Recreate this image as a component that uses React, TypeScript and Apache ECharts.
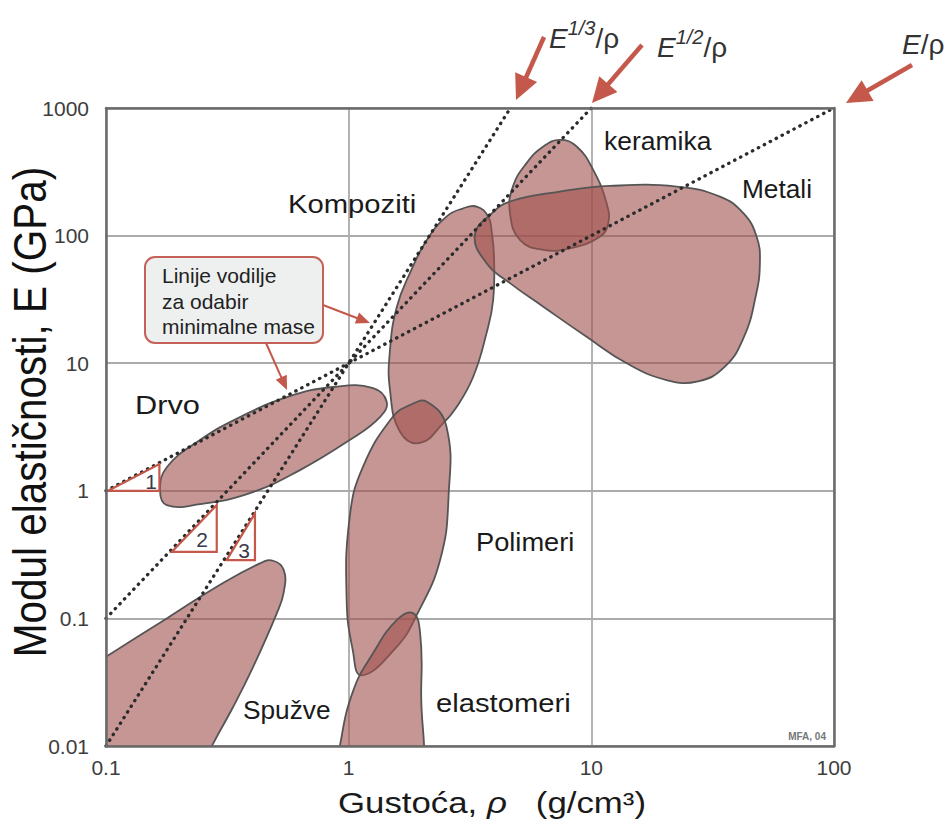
import React, { useEffect, useRef } from 'react';
import * as echarts from 'echarts';

// ---------- data (density g/cm3, modulus GPa) ----------
const xTickLabels = ['0.1', '1', '10', '100'];
const yTickLabels = ['0.01', '0.1', '1', '10', '100', '1000'];

const foams = [[0.06, 0.0267], [0.1, 0.05], [0.178, 0.1], [0.286, 0.177], [0.431, 0.27], [0.488, 0.283], [0.54, 0.24], [0.54, 0.16], [0.505, 0.109], [0.404, 0.0417], [0.334, 0.0202], [0.276, 0.0104], [0.233, 0.0054], [0.152, 0.00375], [0.06, 0.005]];
const wood = [[0.167, 1.01], [0.178, 0.773], [0.244, 0.786], [0.392, 0.96], [0.63, 1.453], [1.01, 2.5], [1.346, 3.78], [1.434, 4.99], [1.26, 6.39], [0.862, 6.51], [0.557, 5.43], [0.3566, 3.78], [0.244, 2.5], [0.1784, 1.535]];
const composites = [[3.37, 169], [3.76, 141], [3.89, 105], [3.97, 68.4], [3.94, 31.3], [3.7, 17.2], [3.26, 7.83], [2.79, 4.56], [2.45, 3.38], [1.97, 2.37], [1.63, 2.89], [1.48, 6.17], [1.48, 12.7], [1.58, 27.7], [1.79, 51], [2.1, 92.5], [2.53, 141], [2.95, 163]];
const polymers = [[2.1, 4.99], [2.53, 3.18], [2.58, 0.9], [2.38, 0.286], [1.906, 0.106], [1.577, 0.0598], [1.13, 0.0358], [1.04, 0.0563], [0.981, 0.139], [1.01, 0.625], [1.145, 1.54], [1.52, 3.8], [1.79, 4.7]];
const elastomers = [[1.84, 0.11], [1.97, 0.0766], [1.99, 0.0273], [1.93, 0.0045], [1.35, 0.0026], [0.878, 0.0045], [0.921, 0.0101], [1.045, 0.0273], [1.26, 0.0533], [1.577, 0.0968]];
const ceramics = [[7.42, 563], [8.7, 499], [10.18, 327], [11.56, 179], [11.74, 125], [10.85, 98], [8.17, 79.6], [6.34, 77.3], [5.08, 92.5], [4.62, 151], [4.75, 242], [5.41, 370], [6.34, 499]];
const metals = [[3.31, 101], [3.9, 150], [4.62, 185], [7.42, 221], [11.9, 245], [22.5, 242], [33.9, 202], [42.3, 150], [48.0, 98], [49.5, 60.8], [47.5, 33], [42.5, 16], [35.5, 9.4], [27.5, 7.2], [20.4, 7.38], [14.0, 9.98], [9.56, 16.1], [6.34, 27.7], [4.62, 42.4], [3.7, 60.8]];

const lineE = [[0.1, 1], [100, 1000]];
const lineE12 = [[0.1, 0.1], [10, 1000]];
const lineE13 = [[0.1, 0.01], [4.64, 1000]];

const tri1 = [[0.102, 1], [0.166, 1.62], [0.166, 1]];
const tri2 = [[0.1865, 0.332], [0.286, 0.773], [0.286, 0.332]];
const tri3 = [[0.314, 0.286], [0.411, 0.665], [0.411, 0.286]];

// ---------- styles ----------
const FONT = '"Liberation Sans", Arial, Helvetica, sans-serif';
const RED = '#c4584a';
const FILL = 'rgba(160,80,76,0.6)';

function regionSeries(name: string, pts: number[][]) {
  return {
    type: 'custom',
    name,
    coordinateSystem: 'cartesian2d',
    xAxisIndex: 0,
    yAxisIndex: 0,
    clip: true,
    silent: true,
    z: 2,
    data: pts,
    encode: { x: 0, y: 1 },
    renderItem: (params: any, api: any) => {
      if (params.dataIndex !== 0) return null;
      return {
        type: 'polygon',
        shape: { points: pts.map((p) => api.coord(p)), smooth: 0.45 },
        style: { fill: FILL, stroke: '#555555', lineWidth: 1.8 },
      };
    },
  };
}

function triangleSeries(name: string, pts: number[][]) {
  return {
    type: 'custom',
    name,
    coordinateSystem: 'cartesian2d',
    xAxisIndex: 0,
    yAxisIndex: 0,
    silent: true,
    z: 6,
    data: pts,
    encode: { x: 0, y: 1 },
    renderItem: (params: any, api: any) => {
      if (params.dataIndex !== 0) return null;
      return {
        type: 'polygon',
        shape: { points: pts.map((p) => api.coord(p)) },
        style: { fill: 'none', stroke: RED, lineWidth: 2.2 },
      };
    },
  };
}

function guideSeries(name: string, pts: number[][]) {
  return {
    type: 'line',
    name,
    xAxisIndex: 0,
    yAxisIndex: 0,
    data: pts,
    symbol: 'none',
    silent: true,
    z: 5,
    lineStyle: { color: '#2b2b2b', width: 3.3, type: [0.4, 6.3], cap: 'round' },
  };
}

function arrow(x1: number, y1: number, x2: number, y2: number, w: number, headLen: number, headHalf: number) {
  const dx = x2 - x1;
  const dy = y2 - y1;
  const L = Math.hypot(dx, dy);
  const ux = dx / L;
  const uy = dy / L;
  const bx = x2 - ux * headLen;
  const by = y2 - uy * headLen;
  const px = -uy;
  const py = ux;
  return [
    { type: 'line', z: 100, shape: { x1, y1, x2: bx + ux * 2, y2: by + uy * 2 }, style: { stroke: RED, lineWidth: w } },
    {
      type: 'polygon',
      z: 100,
      shape: { points: [[x2, y2], [bx + px * headHalf, by + py * headHalf], [bx - px * headHalf, by - py * headHalf]] },
      style: { fill: RED },
    },
  ];
}

function label(text: string, x: number, y: number, size: number, sx = 1, extra: any = {}) {
  return {
    type: 'text',
    x,
    y,
    scaleX: sx,
    z: 100,
    style: {
      text,
      fontSize: size,
      fontFamily: FONT,
      fill: '#1a1a1a',
      align: 'left',
      verticalAlign: 'middle',
      ...extra,
    },
  };
}

function powerLabel(sup: string | null, x: number, y: number) {
  const base = { fontSize: 28, fontFamily: FONT, fill: '#333', lineHeight: 40, verticalAlign: 'middle' };
  return {
    type: 'text',
    x,
    y,
    z: 100,
    style: {
      text: sup ? `{e|E}{s|${sup}}{r|/ρ}` : '{e|E}{r|/ρ}',
      align: 'left',
      verticalAlign: 'middle',
      rich: {
        e: { ...base, fontStyle: 'italic' },
        s: { fontSize: 20, fontFamily: FONT, fill: '#333', fontStyle: 'italic', lineHeight: 14, verticalAlign: 'top' },
        r: { ...base },
      },
    },
  };
}

export default function App() {
  const ref = useRef<HTMLDivElement>(null);

  useEffect(() => {
    if (!ref.current) return;
    const chart = echarts.init(ref.current, null, { renderer: 'svg' });

    const frameAxis = (pos: string) => ({
      type: 'value',
      min: 0,
      max: 1,
      position: pos,
      z: 10,
      axisLine: { show: true, onZero: false, lineStyle: { color: '#6a6a6a', width: 2.5 } },
      axisTick: { show: false },
      axisLabel: { show: false },
      splitLine: { show: false },
    });

    const axisLabelStyle = { fontSize: 21, color: '#3d3d3d', fontFamily: FONT };

    const option: any = {
      animation: false,
      backgroundColor: '#ffffff',
      grid: { left: 106, right: 114, top: 108, bottom: 79, containLabel: false },
      xAxis: [
        {
          type: 'log',
          logBase: 10,
          min: 0.1,
          max: 100,
          position: 'bottom',
          z: 1,
          axisLine: { show: false },
          axisTick: { show: false },
          axisLabel: {
            ...axisLabelStyle,
            margin: 11,
            formatter: (v: number) => xTickLabels[Math.round(Math.log10(v)) + 1] ?? '',
          },
          splitLine: { show: true, lineStyle: { color: '#ababab', width: 1.8 } },
        },
        frameAxis('bottom'),
        frameAxis('top'),
      ],
      yAxis: [
        {
          type: 'log',
          logBase: 10,
          min: 0.01,
          max: 1000,
          position: 'left',
          z: 1,
          axisLine: { show: false },
          axisTick: { show: false },
          axisLabel: {
            ...axisLabelStyle,
            margin: 17,
            formatter: (v: number) => yTickLabels[Math.round(Math.log10(v)) + 2] ?? '',
          },
          splitLine: { show: true, lineStyle: { color: '#ababab', width: 1.8 } },
        },
        frameAxis('left'),
        frameAxis('right'),
      ],
      series: [
        regionSeries('Spužve', foams),
        regionSeries('Drvo', wood),
        regionSeries('Kompoziti', composites),
        regionSeries('Polimeri', polymers),
        regionSeries('elastomeri', elastomers),
        regionSeries('keramika', ceramics),
        regionSeries('Metali', metals),
        guideSeries('E/ρ', lineE),
        guideSeries('E^1/2/ρ', lineE12),
        guideSeries('E^1/3/ρ', lineE13),
        triangleSeries('t1', tri1),
        triangleSeries('t2', tri2),
        triangleSeries('t3', tri3),
      ],
      graphic: {
        z: 100,
        elements: [
          {
            type: 'text',
            x: 30,
            y: 412,
            rotation: Math.PI / 2,
            scaleY: 1.12,
            z: 100,
            style: {
              text: 'Modul elastičnosti, E (GPa)',
              fontSize: 40.5,
              fontFamily: FONT,
              fill: '#111',
              align: 'center',
              verticalAlign: 'middle',
            },
          },
          {
            type: 'text',
            x: 492,
            y: 803,
            scaleX: 1.2,
            z: 100,
            style: {
              text: '{a|Gustoća, }{r|ρ}{a|   (g/cm³)}',
              align: 'center',
              verticalAlign: 'middle',
              rich: {
                a: { fontSize: 29, fontFamily: FONT, fill: '#1a1a1a' },
                r: { fontSize: 29, fontFamily: FONT, fill: '#1a1a1a', fontStyle: 'italic' },
              },
            },
          },
          label('Kompoziti', 288, 204, 25, 1.17),
          label('keramika', 604, 141, 25, 1.06),
          label('Metali', 742, 189, 25, 1.05),
          label('Drvo', 135, 406, 25, 1.23),
          label('Polimeri', 476, 542, 25, 1.09),
          label('Spužve', 243, 710, 25, 1.05),
          label('elastomeri', 436, 703, 25, 1.17),
          label('MFA, 04', 826, 736, 10, 1, { align: 'right', fill: '#777', fontWeight: 'bold' }),
          label('1', 151, 481, 21, 1, { align: 'center', fill: '#3a3a4a' }),
          label('2', 202, 539, 21, 1, { align: 'center', fill: '#3a3a4a' }),
          label('3', 244, 550, 21, 1, { align: 'center', fill: '#3a3a4a' }),
          powerLabel('1/3', 549, 38),
          powerLabel('1/2', 657, 47),
          powerLabel(null, 902, 44),
          ...arrow(544, 37, 516, 100, 4.5, 25, 12),
          ...arrow(642, 45, 592, 103, 4.5, 25, 12),
          ...arrow(912, 65, 846, 103, 4.5, 25, 12),
          {
            type: 'rect',
            z: 100,
            shape: { x: 145, y: 257, width: 178, height: 86, r: 10 },
            style: { fill: '#eef0ef', stroke: '#c4625a', lineWidth: 2 },
          },
          {
            type: 'text',
            x: 162,
            y: 263,
            z: 101,
            style: {
              text: 'Linije vodilje\nza odabir\nminimalne mase',
              fontSize: 21,
              lineHeight: 25.5,
              fontFamily: FONT,
              fill: '#222',
              align: 'left',
              verticalAlign: 'top',
            },
          },
          ...arrow(323, 305, 370, 323, 2, 14, 6),
          ...arrow(266, 343, 287, 390, 2, 14, 6),
        ],
      },
    };

    chart.setOption(option);
    return () => chart.dispose();
  }, []);

  return (
    <div
      ref={ref}
      style={{ position: 'fixed', left: 0, top: 0, width: 948, height: 825, background: '#fff' }}
    />
  );
}
